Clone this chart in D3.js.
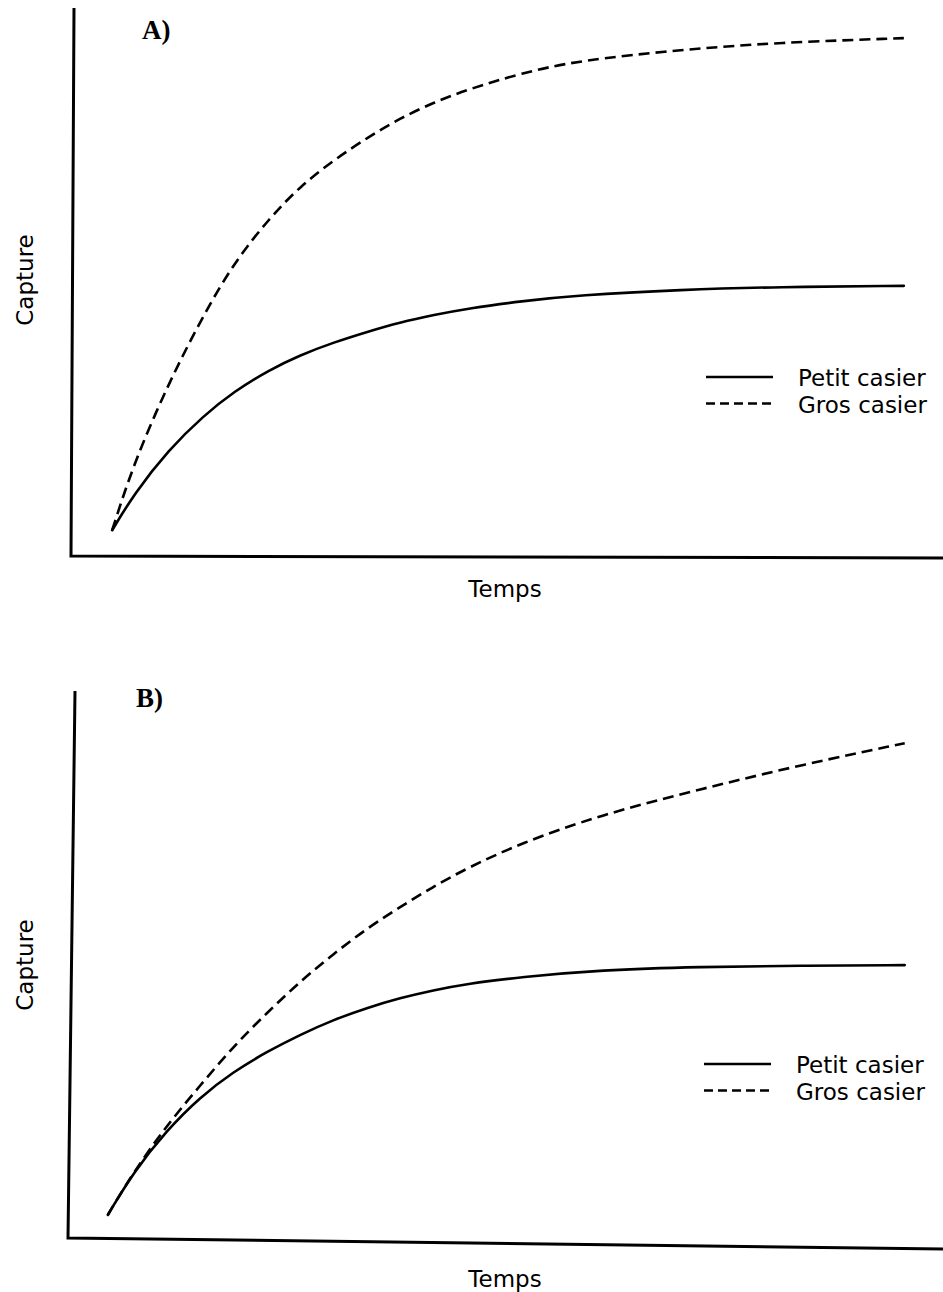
<!DOCTYPE html>
<html>
<head>
<meta charset="utf-8">
<script src="https://cdn.jsdelivr.net/npm/d3@7"></script>
<style>
  html, body { margin: 0; padding: 0; background: #fff; }
  svg { display: block; }
  .lbl { font-family: "DejaVu Sans", sans-serif; fill: #000; }
  .tag { font-family: "Liberation Serif", "DejaVu Serif", serif; font-weight: bold; fill: #000; }
</style>
</head>
<body>
<div id="chart"></div>
<script>
// --- 資料 ---
const timeA  = [4.5, 7, 11, 15, 18.5, 22.5, 26, 30, 34, 37.5, 41.5, 45.5, 51.5, 58, 70, 81, 95.5];
const petitA = [4.7, 11.3, 19.4, 25.6, 30.0, 33.9, 36.6, 39.0, 41.0, 42.6, 44.0, 45.2, 46.5, 47.6, 48.6, 49.1, 49.3];
const grosA  = [4.7, 17.0, 31.6, 44.0, 53.5, 61.5, 67.3, 72.3, 76.5, 79.8, 82.8, 85.2, 88.1, 90.4, 92.4, 93.7, 94.5];

const timeB  = [4.0, 6.9, 10.8, 14.6, 18.4, 22.3, 26.1, 29.9, 33.8, 37.6, 41.4, 45.3, 51.4, 60.6, 72.1, 83.6, 95.6];
const petitB = [4.2, 11.9, 19.7, 25.7, 30.3, 34.0, 37.1, 39.8, 42.0, 43.8, 45.2, 46.4, 47.6, 48.9, 49.5, 49.7, 49.8];
const grosB  = [4.2, 11.9, 20.6, 27.8, 34.9, 41.1, 46.8, 51.8, 56.5, 60.4, 64.1, 67.5, 72.0, 77.2, 81.9, 86.3, 90.3];

const seriesNames = ["Petit casier", "Gros casier"];
const panelTags = ["A)", "B)"];
const xTitle = "Temps";
const yTitle = "Capture";

const W = 943, H = 1292;

const svg = d3.select("#chart").append("svg")
    .attr("width", W)
    .attr("height", H);

// 面板設定 (軸線原為手繪，角點/頂點/右端各自微調)
const panels = [
    { tag: panelTags[0], time: timeA, petit: petitA, gros: grosA,
      left: 73, right: 943, top: 8, bottom: 556,
      axisTop: [74, 8], axisCorner: [71, 556], axisEnd: [943, 558],
      tagX: 142, tagY: 39, legX: 706, legY: 377, xTitleY: 597, yTitleY: 280 },
    { tag: panelTags[1], time: timeB, petit: petitB, gros: grosB,
      left: 73, right: 943, top: 690, bottom: 1238,
      axisTop: [75, 691], axisCorner: [68, 1238], axisEnd: [943, 1249],
      tagX: 136, tagY: 707, legX: 704, legY: 1064, xTitleY: 1287, yTitleY: 965 }
];

panels.forEach(drawPanel);

function drawPanel(p) {
    const g = svg.append("g");

    const x = d3.scaleLinear().domain([0, 100]).range([p.left, p.right]);
    const y = d3.scaleLinear().domain([0, 100]).range([p.bottom, p.top]);

    // 軸線
    g.append("path")
        .attr("d", d3.line()([p.axisTop, p.axisCorner, p.axisEnd]))
        .attr("fill", "none")
        .attr("stroke", "#000")
        .attr("stroke-width", 3)
        .attr("stroke-linejoin", "miter");

    const line = d3.line()
        .x(d => x(d[0]))
        .y(d => y(d[1]))
        .curve(d3.curveBasis);

    g.append("path")
        .datum(d3.zip(p.time, p.petit))
        .attr("d", line)
        .attr("fill", "none")
        .attr("stroke", "#000")
        .attr("stroke-width", 2.6)
        .attr("stroke-linecap", "round");

    g.append("path")
        .datum(d3.zip(p.time, p.gros))
        .attr("d", line)
        .attr("fill", "none")
        .attr("stroke", "#000")
        .attr("stroke-width", 2.6)
        .attr("stroke-dasharray", "11,6");

    // 標籤
    g.append("text").attr("class", "tag")
        .attr("x", p.tagX).attr("y", p.tagY)
        .attr("font-size", 27)
        .text(p.tag);

    g.append("text").attr("class", "lbl")
        .attr("x", 505).attr("y", p.xTitleY)
        .attr("text-anchor", "middle")
        .attr("font-size", 23)
        .text(xTitle);

    g.append("text").attr("class", "lbl")
        .attr("transform", `translate(33,${p.yTitleY}) rotate(-90)`)
        .attr("text-anchor", "middle")
        .attr("font-size", 23)
        .text(yTitle);

    // 圖例
    const leg = g.append("g").attr("transform", `translate(${p.legX},${p.legY})`);
    seriesNames.forEach((name, i) => {
        const row = leg.append("g").attr("transform", `translate(0,${i * 26.5})`);
        row.append("line")
            .attr("x1", 0).attr("x2", 67)
            .attr("y1", 0).attr("y2", 0)
            .attr("stroke", "#000")
            .attr("stroke-width", 2.4)
            .attr("stroke-dasharray", i === 0 ? null : "9,5");
        row.append("text").attr("class", "lbl")
            .attr("x", 92).attr("y", 9)
            .attr("font-size", 23)
            .text(name);
    });
}
</script>
</body>
</html>
